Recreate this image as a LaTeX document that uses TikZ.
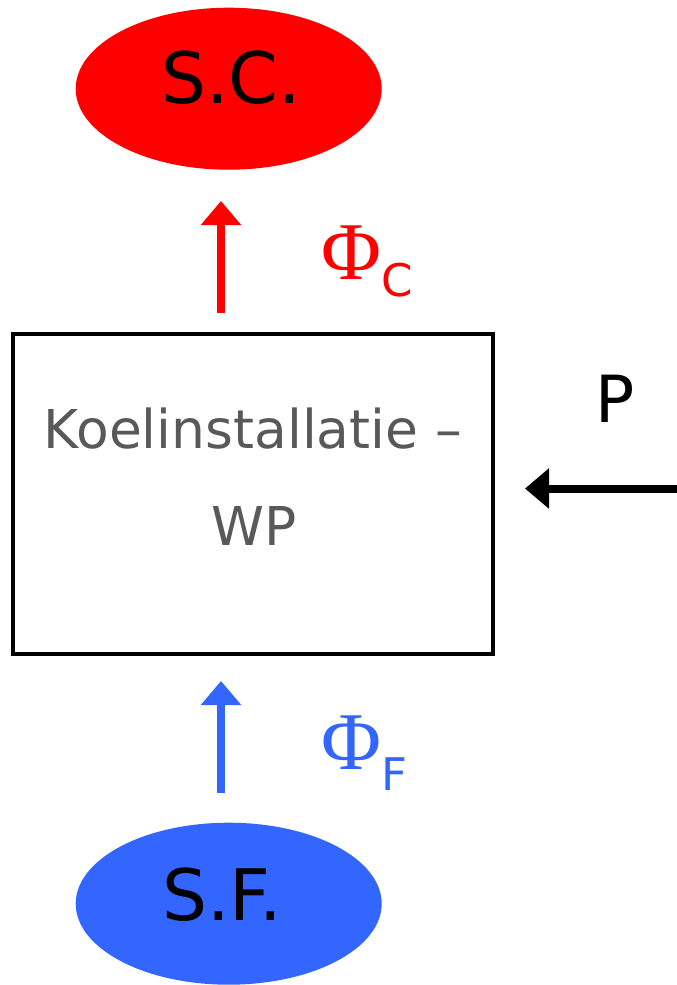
\documentclass[tikz,border=0pt]{standalone}
\usepackage{fontspec}
\setmainfont{DejaVu Sans}
\newfontfamily\phifont{Liberation Serif}
\usetikzlibrary{arrows.meta,shapes.geometric}
\definecolor{scred}{HTML}{FF0000}
\definecolor{sfblue}{HTML}{3366FF}
\definecolor{txtgray}{HTML}{595959}
\begin{document}
\begin{tikzpicture}[x=1pt,y=-1pt,
  srcnode/.style={ellipse, draw=none, minimum width=306pt, minimum height=162pt, inner sep=0pt},
  bigtxt/.style={inner sep=0pt, anchor=base, font=\fontsize{71}{71}\selectfont},
  boxtxt/.style={inner sep=0pt, anchor=base, text=txtgray, font=\fontsize{53.5}{53.5}\selectfont},
  fluxtxt/.style={inner sep=0pt, anchor=base west},
  flow/.style={line width=8pt, -{Triangle[width=39pt,length=24pt]}}]
\useasboundingbox (0,0) rectangle (677,985);
% sources
\node[srcnode, fill=scred] (sc) at (228.7,88.7) {};
\node[bigtxt] (sctxt) at (231,103.3) {S.C.};
\node[srcnode, fill=sfblue] (sf) at (228.7,903.7) {};
\node[bigtxt] (sftxt) at (222,920) {S.F.};
% box
\node[draw=black, line width=3.5pt, minimum width=480pt, minimum height=320pt, inner sep=0pt] (box) at (253,494) {};
\node[boxtxt] (l1) at (253,448.3) {Koelinstallatie –};
\node[boxtxt] (l2) at (254,545) {WP};
% red flow
\coordinate (rs) at (221,312.7);
\coordinate (re) at (221,201);
\draw[flow, draw=scred, fill=scred] (rs) -- (re);
\node[fluxtxt, text=scred] (phic) at (321,279) {{\phifont\fontsize{82}{82}\selectfont Φ}\raisebox{-17pt}{\fontsize{45}{45}\selectfont C}};
% blue flow
\coordinate (bs) at (221,792.7);
\coordinate (be) at (221,681);
\draw[flow, draw=sfblue, fill=sfblue] (bs) -- (be);
\node[fluxtxt, text=sfblue] (phif) at (321,769) {{\phifont\fontsize{82}{82}\selectfont Φ}\raisebox{-21pt}{\fontsize{45}{45}\selectfont F}};
% power
\coordinate (ps) at (677,488.5);
\coordinate (pe) at (525,488.5);
\draw[flow, draw=black, fill=black] (ps) -- (pe);
\node[inner sep=0pt, anchor=base, font=\fontsize{65}{65}\selectfont] (p) at (615.5,422.7) {P};
\end{tikzpicture}
\end{document}
